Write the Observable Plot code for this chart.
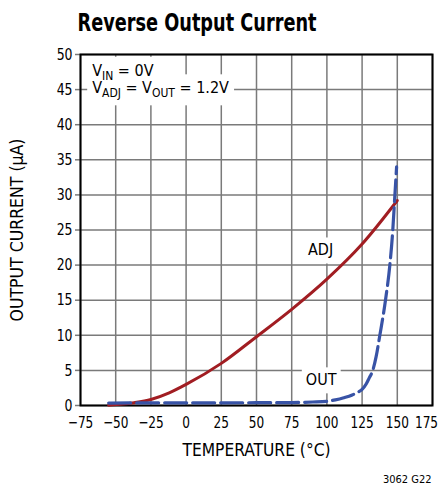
<!DOCTYPE html>
<html><head><meta charset="utf-8">
<script src="https://cdn.jsdelivr.net/npm/d3@7"></script>
<script src="https://cdn.jsdelivr.net/npm/@observablehq/plot@0.6"></script>
<style>
body{margin:0;background:#fff}
</style></head><body><div id="chart"></div><script>
// ---- data ----
const xTicks = [-75, -50, -25, 0, 25, 50, 75, 100, 125, 150, 175];
const yTicks = [0, 5, 10, 15, 20, 25, 30, 35, 40, 45, 50];
const adjTemp = [-55, -45, -37, -25, -12, 0, 25, 50, 75, 100, 125, 150];
const adjCurrent = [0.05, 0.2, 0.4, 0.85, 1.8, 3.0, 6.0, 9.8, 13.7, 18.0, 23.0, 29.2];
const outTemp = [-55, -25, 0, 25, 50, 75, 90, 100, 106, 112, 118, 122, 125, 128, 130, 132.4, 135, 137.6, 141.6, 144.7, 146.8, 148, 149.5];
const outCurrent = [0.35, 0.38, 0.38, 0.38, 0.4, 0.42, 0.5, 0.6, 0.8, 1.1, 1.5, 1.9, 2.3, 3.1, 3.9, 4.9, 7.0, 10, 15, 20, 25, 29, 34];
const noteLabels = [
  {t: -66.7, i: 47.7, text: "V_{IN} = 0V"},
  {t: -66.7, i: 45.2, text: "V_{ADJ} = V_{OUT} = 1.2V"}
];
const curveLabels = [
  {t: 95.5, i: 22.1, text: "ADJ"},
  {t: 95.9, i: 3.6, text: "OUT"}
];
const title = "Reverse Output Current";
const xLabel = "TEMPERATURE (°C)";
const yLabel = "OUTPUT CURRENT (µA)";
const note = "3062 G22";

const adj = adjTemp.map((t, k) => ({t, i: adjCurrent[k]}));
const out = outTemp.map((t, k) => ({t, i: outCurrent[k]}));

const FONT = '"DejaVu Sans Condensed", "Liberation Sans Narrow", sans-serif';
const fmt = d => d < 0 ? "\u2212" + Math.abs(d) : String(d);

const plot = Plot.plot({
  width: 443, height: 488,
  marginLeft: 80, marginRight: 11, marginTop: 54, marginBottom: 83,
  style: {fontFamily: FONT, fontSize: "16px", color: "#000", background: "#fff", overflow: "visible"},
  x: {domain: [-75, 175]},
  y: {domain: [0, 50]},
  marks: [
    Plot.gridX(xTicks, {stroke: "#7a7a7a", strokeOpacity: 1, strokeWidth: 1.5}),
    Plot.gridY(yTicks, {stroke: "#7a7a7a", strokeOpacity: 1, strokeWidth: 1.5}),
    Plot.axisX(xTicks, {tickSize: 0, tickPadding: 11, tickFormat: fmt, fontSize: 16, label: null}),
    Plot.axisY(yTicks, {tickSize: 5, tickPadding: 3, tickFormat: fmt, fontSize: 16.5, label: null, stroke: "#7a7a7a", strokeWidth: 1.5}),
    Plot.text(noteLabels, {x: "t", y: "i", text: "text", textAnchor: "start", fontSize: 16, fill: "#000", lineAnchor: "middle"}),
    Plot.text(curveLabels, {x: "t", y: "i", text: "text", textAnchor: "middle", fontSize: 16, fill: "#000", lineAnchor: "middle"}),
    Plot.frame({stroke: "#000", strokeWidth: 2}),
    Plot.line(adj, {x: "t", y: "i", stroke: "#a11d22", strokeWidth: 3, curve: "monotone-x"}),
    Plot.line(out, {x: "t", y: "i", stroke: "#3853a6", strokeWidth: 3.2, curve: "monotone-x", strokeDasharray: "22,6"}),
    Plot.text([title], {frameAnchor: "top-left", dx: -3, dy: -41, lineAnchor: "top", textAnchor: "start", fontSize: 24, fontWeight: "bold", fill: "#000"}),
    Plot.text([xLabel], {frameAnchor: "bottom", dy: 38, lineAnchor: "top", textAnchor: "middle", fontSize: 17, fill: "#000"}),
    Plot.text([yLabel], {frameAnchor: "left", dx: -63, rotate: -90, lineAnchor: "middle", textAnchor: "middle", fontSize: 17, fill: "#000"}),
    Plot.text([note], {frameAnchor: "bottom-right", dx: -1, dy: 70, lineAnchor: "top", textAnchor: "end", fontSize: 11, fill: "#000"})
  ]
});
document.getElementById("chart").appendChild(plot);

const svg = d3.select(plot);
const fit = {};
fit[title] = 239; fit[xLabel] = 148; fit[yLabel] = 183;
const lastX = fmt(xTicks[xTicks.length - 1]);
svg.selectAll("text").each(function() {
  const el = d3.select(this);
  const s = el.text();
  if (fit[s]) { el.attr("textLength", fit[s]).attr("lengthAdjust", "spacingAndGlyphs"); return; }
  if (/^[\u2212\d]+$/.test(s)) {
    const len = this.getComputedTextLength();
    el.attr("textLength", len * 0.84).attr("lengthAdjust", "spacingAndGlyphs");
    const anchor = d3.select(this.parentNode).attr("text-anchor");
    if (s === lastX && anchor !== "end") el.attr("dx", -6);
    return;
  }
  const isNote = /_\{/.test(s);
  if (!isNote && s !== "ADJ" && s !== "OUT") return;
  if (isNote) {
    el.text(null);
    let sub = false;
    s.split(/(_\{[^}]*\})/).forEach(p => {
      if (!p) return;
      const m = p.match(/^_\{([^}]*)\}$/);
      if (m) {
        el.append("tspan").attr("font-size", "12px").attr("dy", "4").text(m[1]);
        sub = true;
      } else {
        el.append("tspan").attr("dy", sub ? "-4" : null).text(p);
        sub = false;
      }
    });
  }
  const b = this.getBBox();
  const pad = isNote ? 5 : 4;
  d3.select(this.parentNode).insert("rect", ":first-child")
    .attr("transform", el.attr("transform"))
    .attr("x", b.x - pad).attr("y", b.y - pad + 1)
    .attr("width", b.width + 2 * pad).attr("height", b.height + 2 * pad - 1)
    .attr("fill", "#fff");
});
</script></body></html>
